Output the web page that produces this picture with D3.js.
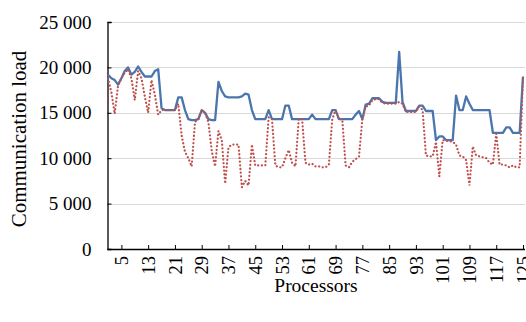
<!DOCTYPE html>
<html><head><meta charset="utf-8">
<script src="https://cdn.jsdelivr.net/npm/d3@7"></script>
<style>html,body{margin:0;padding:0;background:#fff;}svg{display:block;}</style>
</head><body><svg id="c" width="526" height="322"></svg>
<script>
const processors = d3.range(1, 126);
const xTickLabels = [5, 13, 21, 29, 37, 45, 53, 61, 69, 77, 85, 93, 101, 109, 117, 125];
const yTicks = [0, 5000, 10000, 15000, 20000, 25000];
const seriesBlue = [19200,18800,18600,18100,18800,19600,20000,19200,19500,20100,19500,19000,19000,19000,19600,19800,15500,15300,15300,15300,
15300,16700,16700,15300,14300,14200,14200,14300,15300,15000,14300,14200,14200,18400,17400,16800,16700,16700,16700,16700,
16800,17100,17000,15300,14300,14300,14300,14300,15300,14300,14300,14300,14300,15800,15800,14300,14300,14300,14300,14300,
14300,14800,14300,14300,14300,14300,14300,15300,15300,14300,14300,14300,14300,14300,14800,15200,14300,15900,16000,16600,
16600,16600,16200,16100,16100,16100,16100,21700,16200,15200,15200,15200,15200,15800,15800,15200,15200,15200,12000,12400,
12400,12000,12000,12000,16900,15300,15300,16800,16000,15300,15300,15300,15300,15300,15300,12800,12800,12800,12800,13400,
13400,12800,12800,12800,19000];
const seriesRed = [18800,17300,14900,18000,18800,19400,19800,18800,16400,19600,18800,16800,15000,18600,17000,14800,15300,15300,15300,15300,
15300,16000,12500,10700,10000,9100,14000,14300,15300,15000,14000,10800,9100,13000,12000,7200,11200,11500,11500,11500,
6800,7500,7000,11500,9200,9200,9200,9200,14500,14300,9200,9000,9000,10000,10900,9500,9100,14300,14300,9500,
9300,9400,9100,9100,9000,9000,9300,14300,15300,14300,14300,9200,9000,9600,9900,10200,14300,15700,15800,16400,
16500,16500,16100,16000,16000,16000,16000,16200,16000,15100,15100,15100,15100,15700,15300,10300,10200,10200,11800,8000,
12000,11900,11900,11800,11500,10300,10200,9800,7000,11300,10300,10200,10100,10000,9500,9300,12700,9300,9300,9200,
9000,9200,9000,9000,19000];

const FONT = '"Liberation Serif", "Times New Roman", serif';
const svg = d3.select("#c");
const L = 107.5, R = 523, T = 22, B = 249;
const x = d3.scalePoint().domain(processors).range([L + 0.5, R]);
const y = d3.scaleLinear().domain([0, 25000]).range([B, T]);

// gridlines
svg.append("g").selectAll("line").data(yTicks.filter(d => d > 0)).join("line")
  .attr("x1", L).attr("x2", R + 2).attr("y1", d => Math.round(y(d)) + 0.5).attr("y2", d => Math.round(y(d)) + 0.5)
  .attr("stroke", "#d9d9d9").attr("stroke-width", 1.2);

// y axis
const yAxis = d3.axisLeft(y).tickValues(yTicks).tickSize(-4).tickPadding(16)
  .tickFormat(d => d === 0 ? "0" : d3.format(",")(d).replace(",", " "));
const gy = svg.append("g").attr("transform", `translate(${L},0)`).call(yAxis);
gy.select(".domain").attr("stroke", "#000").attr("stroke-width", 1.3);
gy.selectAll(".tick line").attr("stroke", "#000");
gy.selectAll("text").style("font-family", FONT).style("font-size", "19px").attr("fill", "#000");

// x axis
const xAxis = d3.axisBottom(x).tickValues(xTickLabels).tickSize(-4).tickPadding(7).tickSizeOuter(0);
const gx = svg.append("g").attr("transform", `translate(0,${B})`).call(xAxis);
gx.select(".domain").attr("stroke", "#000").attr("stroke-width", 1.3).attr("d", `M${L},0.5H${R + 2}`);
gx.selectAll(".tick line").attr("stroke", "#000");
gx.selectAll("text").style("font-family", FONT).style("font-size", "18.5px").attr("fill", "#000")
  .attr("transform", "rotate(-90)").attr("text-anchor", "end").attr("x", -7).attr("y", 0).attr("dy", "0.33em");

// lines
const line = d3.line().x((d, i) => x(processors[i])).y(d => y(d));
svg.append("path").datum(seriesBlue).attr("d", line).attr("fill", "none")
  .attr("stroke", "#4a76ad").attr("stroke-width", 2.3).attr("stroke-linejoin", "round");
svg.append("path").datum(seriesRed).attr("d", line).attr("fill", "none")
  .attr("stroke", "#c0504d").attr("stroke-width", 2.2).attr("stroke-dasharray", "0.1,3.6").attr("stroke-linecap", "round");

// titles
svg.append("text").attr("x", 316).attr("y", 292).attr("text-anchor", "middle")
  .style("font-family", FONT).style("font-size", "19.5px").text("Processors");
svg.append("text").attr("transform", "translate(26,139) rotate(-90)").attr("text-anchor", "middle")
  .style("font-family", FONT).style("font-size", "21px").text("Communication load");
</script></body></html>
